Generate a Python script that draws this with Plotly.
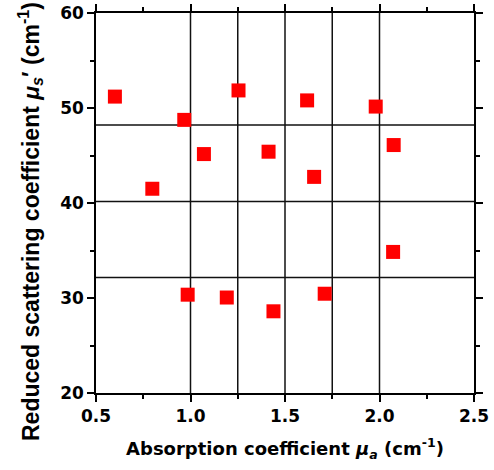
import plotly.graph_objects as go

# Data
mua = [0.600, 0.967, 1.254, 1.617, 1.980, 1.071, 1.413, 2.075, 0.798, 1.654, 2.072, 0.985, 1.192, 1.439, 1.710]
musp = [51.2, 48.75, 51.85, 50.8, 50.15, 45.15, 45.4, 46.1, 41.5, 42.75, 34.85, 30.35, 30.05, 28.6, 30.45]

vgrid = [1.0, 1.25, 1.5, 1.75, 2.0]
hgrid = [48.2, 40.15, 32.15]

xticks = [0.5, 1.0, 1.5, 2.0, 2.5]
yticks = [20, 30, 40, 50, 60]

FONT = "DejaVu Sans, Liberation Sans, Arial, sans-serif"
FONT_Y = "Liberation Sans, Arial, Helvetica, sans-serif"

fig = go.Figure()
fig.add_trace(go.Scatter(
    x=mua, y=musp, mode="markers",
    marker=dict(symbol="square", size=14, color="#ff0000", line=dict(width=0)),
    showlegend=False,
))

shapes = []
for v in vgrid:
    shapes.append(dict(type="line", xref="x", yref="y", x0=v, x1=v, y0=20, y1=60,
                       line=dict(color="#111111", width=1.5), layer="below"))
for h in hgrid:
    shapes.append(dict(type="line", xref="x", yref="y", x0=0.5, x1=2.5, y0=h, y1=h,
                       line=dict(color="#111111", width=1.5), layer="below"))

axis_common = dict(
    showline=True, linecolor="black", linewidth=1.5, mirror="ticks",
    ticks="outside", ticklen=7, tickwidth=1.5, tickcolor="black",
    showgrid=False, zeroline=False, automargin=False,
    tickfont=dict(family=FONT, size=17, color="black", weight="bold"),
)

fig.update_layout(
    width=494, height=470,
    margin=dict(l=96, r=20, t=13, b=77),
    paper_bgcolor="white", plot_bgcolor="white",
    shapes=shapes,
    xaxis=dict(
        range=[0.5, 2.5], tickvals=xticks, ticktext=[f"{v:.1f}" for v in xticks],
        minor=dict(dtick=0.25, tick0=0.5, ticks="outside", ticklen=4, tickwidth=1.5, tickcolor="black"),
        title=dict(text="<b>Absorption coefficient <i>μ<sub>a</sub></i> (cm<sup>-1</sup>)</b>",
                   font=dict(family=FONT, size=18, color="black"), standoff=17),
        **axis_common,
    ),
    yaxis=dict(
        range=[20, 60], tickvals=yticks, ticktext=[str(v) for v in yticks],
        minor=dict(dtick=5, tick0=20, ticks="outside", ticklen=4, tickwidth=1.5, tickcolor="black"),
        **axis_common,
    ),
    annotations=[dict(
        text="<b>Reduced scattering coefficient <i>μ<sub>s</sub></i>′ (cm<sup>-1</sup>)</b>",
        xref="paper", yref="paper", x=(30 - 96) / 378, y=(393 - 222) / 380,
        xanchor="center", yanchor="middle", textangle=-90, showarrow=False,
        font=dict(family=FONT_Y, size=23, color="black"),
    )],
)

fig.write_html("out.html")
